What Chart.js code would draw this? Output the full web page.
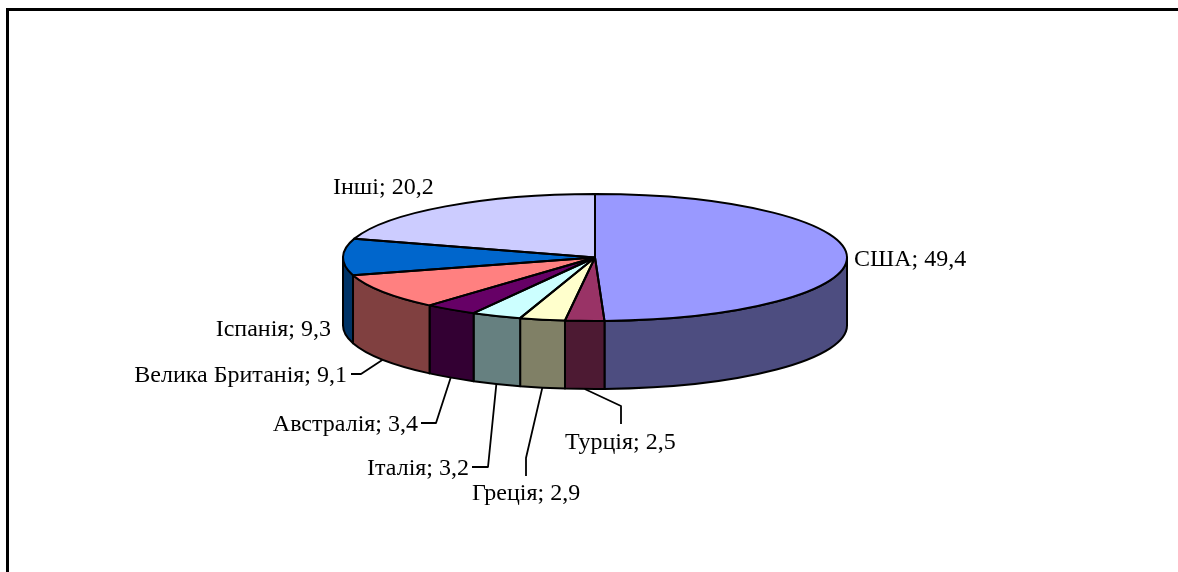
<!DOCTYPE html>
<html>
<head>
<meta charset="utf-8">
<script src="https://cdn.jsdelivr.net/npm/chart.js@4"></script>
<style>
  html, body { margin: 0; padding: 0; background: #fff; }
  #wrap { position: relative; width: 1178px; height: 572px; overflow: hidden; }
  #frame { position: absolute; left: 6px; top: 8px; right: -10px; bottom: -10px;
           border-top: 3px solid #000; border-left: 3px solid #000; }
  canvas { position: absolute; left: 0; top: 0; }
</style>
</head>
<body>
<div id="wrap">
  <div id="frame"></div>
  <canvas id="pie3d" width="1178" height="572"></canvas>
</div>
<script>
// дані діаграми (частки, %)
const countries = ['США', 'Турція', 'Греція', 'Італія', 'Австралія', 'Велика Британія', 'Іспанія', 'Інші'];
const shares = [49.4, 2.5, 2.9, 3.2, 3.4, 9.1, 9.3, 20.2];
const sliceColors = ['#9999FF', '#993366', '#FFFFCC', '#CCFFFF', '#660066', '#FF8080', '#0066CC', '#CCCCFF'];

// розкладка підписів: x, y (базова лінія), вирівнювання, точки виноски
const labelLayout = [
  { x: 854, y: 266, align: 'left',  leader: null },
  { x: 565, y: 449, align: 'left',  leader: [[621, 406], [621, 424]] },
  { x: 472, y: 500, align: 'left',  leader: [[526, 458], [526, 476]] },
  { x: 469, y: 475, align: 'right', leader: [[488, 467], [472, 467]] },
  { x: 418, y: 431, align: 'right', leader: [[436, 423], [421, 423]] },
  { x: 347, y: 382, align: 'right', leader: [[361, 374], [351, 374]] },
  { x: 331, y: 336, align: 'right', leader: null },
  { x: 333, y: 194, align: 'left',  leader: null }
];

const TILT = 0.252;   // стискання по вертикалі
const DEPTH = 68;     // товщина "пирога"

function darker(hex) {
  const n = parseInt(hex.slice(1), 16);
  const r = (n >> 16) & 255, g = (n >> 8) & 255, b = n & 255;
  return `rgb(${Math.round(r / 2)},${Math.round(g / 2)},${Math.round(b / 2)})`;
}

const pie3d = {
  id: 'pie3d',
  beforeDatasetsDraw(chart) {
    const ctx = chart.ctx;
    const arcs = chart.getDatasetMeta(0).data;
    const cx = arcs[0].x, cy = arcs[0].y, r = arcs[0].outerRadius;
    // бічні стінки (видима передня половина)
    arcs.forEach((arc, i) => {
      const a0 = Math.max(arc.startAngle, 0);
      const a1 = Math.min(arc.endAngle, Math.PI);
      if (a1 <= a0) return;
      ctx.beginPath();
      ctx.ellipse(cx, cy, r, r * TILT, 0, a0, a1, false);
      ctx.ellipse(cx, cy + DEPTH, r, r * TILT, 0, a1, a0, true);
      ctx.closePath();
      ctx.fillStyle = darker(sliceColors[i]);
      ctx.fill();
      ctx.lineWidth = 2;
      ctx.strokeStyle = '#000';
      ctx.lineJoin = 'round';
      ctx.stroke();
    });
    // верхня грань малюється бібліотекою у стиснутих координатах
    ctx.save();
    ctx.translate(cx, cy);
    ctx.scale(1, TILT);
    ctx.translate(-cx, -cy);
  },
  afterDatasetsDraw(chart) {
    const ctx = chart.ctx;
    ctx.restore();
    const arcs = chart.getDatasetMeta(0).data;
    const cx = arcs[0].x, cy = arcs[0].y, r = arcs[0].outerRadius;
    ctx.lineWidth = 2;
    ctx.strokeStyle = '#000';
    ctx.lineJoin = 'round';
    arcs.forEach(arc => {
      ctx.beginPath();
      ctx.moveTo(cx, cy);
      ctx.ellipse(cx, cy, r, r * TILT, 0, arc.startAngle, arc.endAngle, false);
      ctx.closePath();
      ctx.stroke();
    });
    // підписи та виноски
    ctx.font = '24px "Liberation Serif", "Times New Roman", serif';
    ctx.fillStyle = '#000';
    ctx.textBaseline = 'alphabetic';
    arcs.forEach((arc, i) => {
      const lay = labelLayout[i];
      if (lay.leader) {
        const mid = (arc.startAngle + arc.endAngle) / 2;
        const sx = cx + r * Math.cos(mid);
        const sy = cy + r * TILT * Math.sin(mid) + DEPTH;
        ctx.beginPath();
        ctx.lineWidth = 1.8;
        ctx.moveTo(sx, sy);
        lay.leader.forEach(p => ctx.lineTo(p[0], p[1]));
        ctx.stroke();
      }
      ctx.textAlign = lay.align;
      ctx.fillText(countries[i] + '; ' + String(shares[i]).replace('.', ','), lay.x, lay.y);
    });
  }
};

new Chart(document.getElementById('pie3d'), {
  type: 'pie',
  data: {
    labels: countries,
    datasets: [{
      data: shares,
      backgroundColor: sliceColors,
      borderWidth: 0
    }]
  },
  options: {
    responsive: false,
    animation: false,
    events: [],
    layout: { padding: { top: 5.5, bottom: 62.5, left: 12, right: 0 } },
    plugins: {
      legend: { display: false },
      tooltip: { enabled: false }
    }
  },
  plugins: [pie3d]
});
</script>
</body>
</html>
